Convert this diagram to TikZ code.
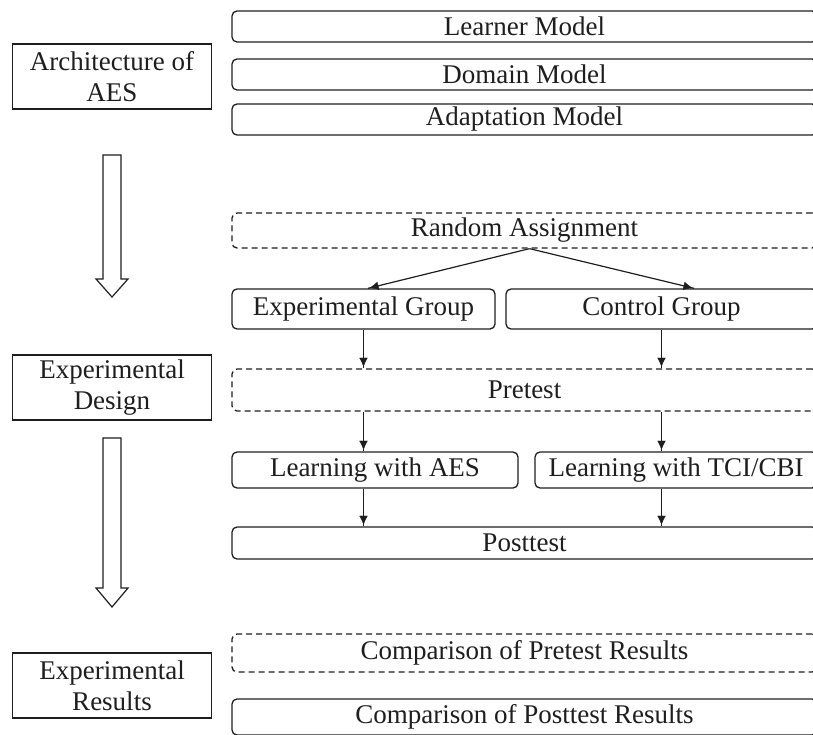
\documentclass[tikz,border=0pt]{standalone}
\usepackage{fontspec}
\setmainfont{Liberation Serif}
\usepackage{tikz}
\usepackage{xcolor}
\definecolor{ink}{RGB}{30,30,30}
\usetikzlibrary{positioning, calc, arrows.meta, decorations.markings}
\tikzstyle{Stage} = [
draw=ink, line width=1.4pt, align=center, inner sep=0pt,
minimum width=199pt, minimum height=65pt, text=ink,
font=\fontsize{27}{31}\selectfont]
\tikzstyle{Panel} = [
draw=ink, line width=1.3pt, rounded corners=5pt, inner sep=0pt, text=ink,
font=\fontsize{27}{31}\selectfont]
\tikzstyle{DPanel} = [Panel, dash pattern=on 6pt off 4pt]
\tikzstyle{Arrow} = [
line width=1.2pt, draw=ink,
decoration={
markings,
mark=at position 1 with {
\arrow[ink]{Latex[length=11pt,width=10pt]}}},
preaction = {decorate}]
\tikzstyle{Hollow} = [draw=ink, line width=1.2pt, fill=white]

\begin{document}
\begin{tikzpicture}[x=1pt, y=-1pt]
    \useasboundingbox (0,0) rectangle (813,735);

    % stages on the left
    \node [Stage] (arch) at (112,76.5) {Architecture of\\AES};
    \node [Stage] (design) at (112,387.5) {Experimental\\Design};
    \node [Stage] (results) at (112,685.5) {Experimental\\Results};

    % architecture
    \node [Panel, minimum width=585pt, minimum height=31pt] (learner) at (524.5,26.5) {Learner Model};
    \node [Panel, minimum width=585pt, minimum height=31pt] (domain) at (524.5,74.5) {Domain Model};
    \node [Panel, minimum width=585pt, minimum height=31pt] (adapt) at (524.5,119.5) {Adaptation Model};

    % design
    \node [DPanel, minimum width=585pt, minimum height=35pt] (random) at (524.5,230.5) {Random Assignment};
    \node [Panel, minimum width=263pt, minimum height=40pt] (exp) at (363.5,309) {Experimental Group};
    \node [Panel, minimum width=311pt, minimum height=40pt] (ctrl) at (661.5,309) {Control Group};
    \node [DPanel, minimum width=585pt, minimum height=42pt] (pretest) at (524.5,390) {Pretest};
    \node [Panel, minimum width=286pt, minimum height=36pt] (learnaes) at (375,470) {Learning with AES};
    \node [Panel, minimum width=282pt, minimum height=36pt] (learntci) at (676,470) {Learning with TCI/CBI};
    \node [Panel, minimum width=585pt, minimum height=32pt] (posttest) at (524.5,543) {Posttest};

    % results
    \node [DPanel, minimum width=585pt, minimum height=38pt] (cmppre) at (524.5,653) {Comparison of Pretest Results};
    \node [Panel, minimum width=585pt, minimum height=36pt] (cmppost) at (524.5,717) {Comparison of Posttest Results};

    \draw[Arrow] ([xshift=5pt]random.south) -- ([xshift=4.5pt]exp.north);
    \draw[Arrow] ([xshift=5pt]random.south) -- ([xshift=32.5pt]ctrl.north);
    \draw[Arrow] (exp.south) -- (exp.south |- pretest.north);
    \draw[Arrow] (ctrl.south) -- (ctrl.south |- pretest.north);
    \draw[Arrow] (pretest.south -| exp.south) -- (learnaes.north -| exp.south);
    \draw[Arrow] (pretest.south -| ctrl.south) -- (learntci.north -| ctrl.south);
    \draw[Arrow] (learnaes.south -| exp.south) -- (posttest.north -| exp.south);
    \draw[Arrow] (learntci.south -| ctrl.south) -- (posttest.north -| ctrl.south);

    % hollow arrows
    \draw[Hollow] (103,155) -- (121,155) -- (121,279) -- (128,279) -- (112,297)
        -- (96,279) -- (103,279) -- cycle;
    \draw[Hollow] (103,438) -- (121,438) -- (121,588) -- (128,588) -- (112,607)
        -- (96,588) -- (103,588) -- cycle;
\end{tikzpicture}
\end{document}
